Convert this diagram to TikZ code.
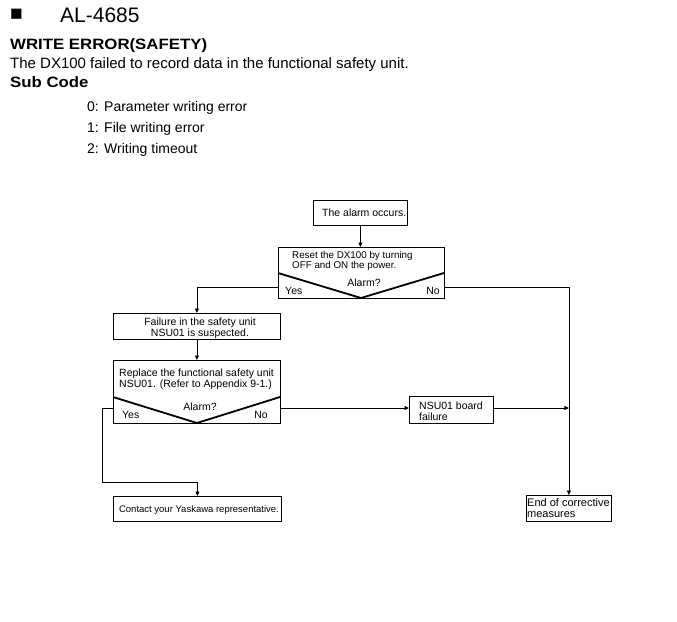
\documentclass[tikz,border=0pt]{standalone}
\usepackage{fontspec}
\usepackage{graphicx}
\setmainfont{Liberation Sans}
\usetikzlibrary{arrows.meta,calc}
\begin{document}
\begin{tikzpicture}[x=1pt,y=-1pt,
  box/.style={draw, line width=0.8pt, inner sep=0pt, anchor=north west},
  conn/.style={line width=0.8pt},
  arr/.style={conn, -{Triangle[length=4.5pt,width=4pt]}},
  diag/.style={line width=1.8pt},
  ft/.style={font=\fontsize{10.5}{12}\selectfont, inner sep=0pt},
  hd/.style={inner sep=0pt, anchor=base west},
  bold/.style={hd, font=\bfseries\fontsize{15}{18}\selectfont},
  sub/.style={hd, font=\fontsize{14}{16}\selectfont},
]
\useasboundingbox (0,0) rectangle (677,621);

% header
\node[hd, font=\fontsize{21}{24}\selectfont] (sq) at (10,20.5) {■};
\node[hd, font=\fontsize{21}{24}\selectfont] (code) at (60,22) {AL-4685};
\node[bold] (title) at (10,49) {\scalebox{1.12}[1]{WRITE ERROR(SAFETY)}};
\node[hd, font=\fontsize{15}{18}\selectfont] (desc) at (10,68) {The DX100 failed to record data in the functional safety unit.};
\node[bold] (subc) at (10,87) {\scalebox{1.12}[1]{Sub Code}};
\node[sub] (s0) at (87,111) {0:};
\node[sub] (s0t) at (104,111) {Parameter writing error};
\node[sub] (s1) at (87,132) {1:};
\node[sub] (s1t) at (104,132) {File writing error};
\node[sub] (s2) at (87,153) {2:};
\node[sub] (s2t) at (104,153) {Writing timeout};

% boxes
\node[box, minimum width=94, minimum height=25] (alarm) at (313,200) {};
\node[ft, anchor=base west] (talarm) at (322,216) {The alarm occurs.};

\node[box, minimum width=166, minimum height=51] (dec1) at (278,247) {};
\coordinate (d1a) at (278,273);
\coordinate (d1b) at (361,298);
\coordinate (d1c) at (444,273);
\draw[diag] (d1a) -- (d1b) -- (d1c);
\node[ft, font=\fontsize{9.8}{12}\selectfont, anchor=base west] (t1a) at (292,258) {Reset the DX100 by turning};
\node[ft, font=\fontsize{9.8}{12}\selectfont, anchor=base west] (t1b) at (292,268) {OFF and ON the power.};
\node[ft, anchor=base] (t1c) at (364,286) {Alarm?};
\node[ft, anchor=base west] (t1y) at (285,294) {Yes};
\node[ft, anchor=base east] (t1n) at (440,294) {No};

\node[box, minimum width=167, minimum height=26] (fail) at (113,313) {};
\node[ft, anchor=base] (tf1) at (200,325) {Failure in the safety unit};
\node[ft, anchor=base] (tf2) at (200,336) {NSU01 is suspected.};

\node[box, minimum width=167, minimum height=63] (dec2) at (113,360) {};
\coordinate (d2a) at (113,397);
\coordinate (d2b) at (197,423);
\coordinate (d2c) at (280,397);
\draw[diag] (d2a) -- (d2b) -- (d2c);
\node[ft, anchor=base west] (t2a) at (119,376) {Replace the functional safety unit};
\node[ft, anchor=base west] (t2b) at (119,387) {NSU01. (Refer to Appendix 9-1.)};
\node[ft, anchor=base] (t2c) at (200,410) {Alarm?};
\node[ft, anchor=base west] (t2y) at (122,418) {Yes};
\node[ft, anchor=base east] (t2n) at (268,418) {No};

\node[box, minimum width=84, minimum height=27] (nsu) at (409,396) {};
\node[ft, anchor=base west] (tn1) at (419,409) {NSU01 board};
\node[ft, anchor=base west] (tn2) at (419,420) {failure};

\node[box, minimum width=168, minimum height=25] (contact) at (113,496) {};
\node[ft, font=\fontsize{9.5}{12}\selectfont, anchor=base] (tc) at (199,512) {Contact your Yaskawa representative.};

\node[box, minimum width=85, minimum height=26] (endb) at (526,495) {};
\node[ft, font=\fontsize{11}{13}\selectfont, anchor=base west] (te1) at (527,506) {End of corrective};
\node[ft, font=\fontsize{11}{13}\selectfont, anchor=base west] (te2) at (527,517) {measures};

% connectors
\coordinate (d1y) at (278,287);
\coordinate (d1n) at (444,287);
\coordinate (d2y) at (113,408);
\coordinate (d2n) at (280,408);
\coordinate (k1) at (102,482);

\draw[arr] (alarm.south) -- (alarm.south |- dec1.north);
\draw[arr] (d1y) -| (fail.north);
\draw[arr] (d1n) -| (endb.north);
\draw[arr] (fail.south) -- (dec2.north);
\draw[arr] (d2y) -- (d2y -| k1) -- (k1) -| (contact.north);
\draw[arr] (d2n) -- (d2n -| nsu.west);
\draw[arr] (nsu.east |- d2n) -- (d2n -| endb.north);
\end{tikzpicture}
\end{document}
